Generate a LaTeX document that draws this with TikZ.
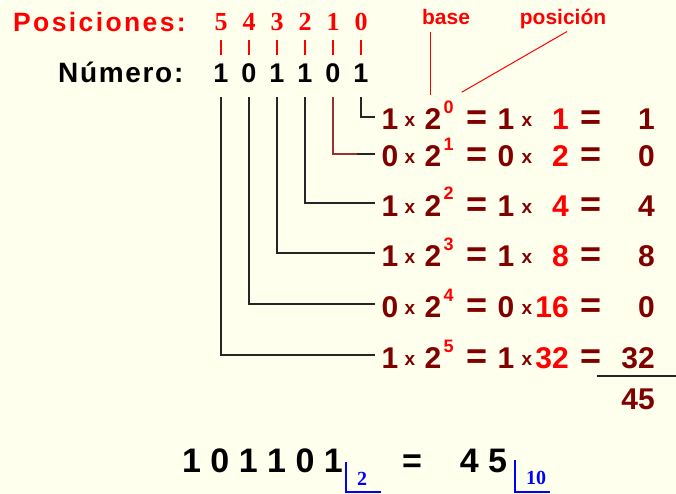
\documentclass[tikz,border=0pt]{standalone}
\usepackage{fontspec}
\usetikzlibrary{calc}
\newfontfamily\lsans{Liberation Sans}
\newfontfamily\lsanswide{Liberation Sans}[LetterSpace=9]
\newfontfamily\lsansmid{Liberation Sans}[LetterSpace=6]
\newfontfamily\lserif{Liberation Serif}
\definecolor{bg}{HTML}{FFFFEE}
\definecolor{dred}{HTML}{800000}
\definecolor{lred}{HTML}{FF0000}
\definecolor{bblue}{HTML}{0000FF}
\definecolor{brownred}{HTML}{993333}
\newcommand\fsz[1]{\fontsize{#1pt}{#1pt}\selectfont}
\begin{document}
\begin{tikzpicture}[x=1pt,y=-1pt,
  big/.style={font=\lsans\bfseries\fsz{30}, text=dred, inner sep=0pt, anchor=base, text height=21.5pt, text depth=0pt},
  valst/.style={big, text=lred, anchor=base east},
  resst/.style={big, anchor=base east},
  smx/.style={font=\lsans\bfseries\fsz{19}, text=dred, inner sep=0pt, anchor=base},
  expo/.style={font=\lsans\bfseries\fsz{18}, text=lred, inner sep=0pt, anchor=base},
  eqs/.style={font=\lsans\bfseries\fsz{36}, text=dred, inner sep=0pt, anchor=base},
  posd/.style={font=\lserif\bfseries\fsz{26}, text=lred, inner sep=0pt, anchor=base, text height=18pt, text depth=0pt},
  numd/.style={font=\lsans\bfseries\fsz{27}, text=black, inner sep=0pt, anchor=base, text height=19.5pt, text depth=0pt},
  annt/.style={font=\lsans\bfseries\fsz{21}, text=lred, inner sep=0pt, anchor=base},
  botst/.style={font=\lsans\bfseries\fsz{34}, text=black, inner sep=0pt, anchor=base},
  subst/.style={font=\lserif\bfseries\fsz{20}, text=bblue, inner sep=0pt, anchor=base},
  conn/.style={draw=black!85, line width=1.7pt},
  tick/.style={draw=lred, line width=1.3pt},
  ann/.style={draw=lred, line width=1pt},
  brk/.style={draw=bblue, line width=1.5pt}]
\useasboundingbox (0,0) rectangle (676,494);
\fill[bg] (0,0) rectangle (676,494);

% header
\node[font=\lsanswide\bfseries\fsz{26.5}, text=lred, inner sep=0pt, anchor=base west] (pos) at (13,32) {Posiciones:};
\node[font=\lsansmid\bfseries\fsz{28}, text=black, inner sep=0pt, anchor=base west] (num) at (58,83) {Número:};
\foreach \k/\x/\b in {5/221/1,4/249/0,3/277/1,2/305/1,1/333/0,0/361/1} {
  \node[posd] (p\k) at (\x,31) {\k};
  \node[numd] (n\k) at (\x,83) {\b};
  \draw[tick, shorten <=9pt, shorten >=8pt] (p\k.south) -- (n\k.north);
}

% rows
\foreach \i/\B/\c/\v/\r in {0/130/1/1/1, 1/167/0/2/0, 2/216/1/4/4, 3/266/1/8/8, 4/317/0/16/0, 5/368/1/32/32} {
  \node[big] (c\i) at (390,\B) {\c};
  \node[smx] (xa\i) at (410,\B-3) {x};
  \node[big] (t\i) at (433,\B) {2};
  \node[expo] (e\i) at (448.5,\B-16) {\i};
  \node[eqs] (q\i) at (477,\B) {=};
  \node[big] (d\i) at (506,\B) {\c};
  \node[smx] (xb\i) at (527,\B-3) {x};
  \node[valst] (v\i) at (569,\B) {\v};
  \node[eqs] (r\i) at (591,\B) {=};
  \node[resst] (s\i) at (655,\B) {\r};
  \draw[conn, shorten <=14pt] (n\i.south) |- ($(c\i.west)+(-6,-2.25)$);
}
\coordinate (k1) at ($(c1.west)+(-24,-2.25)$);
\draw[conn, draw=brownred, shorten <=14pt] (n1.south) |- (k1);

% total
\draw[conn] (597,376) -- (676,376);
\node[resst] (tot) at (655,409) {45};

% annotations
\node[annt] (basel) at (446,25) {base};
\node[annt] (posi) at (563,25) {posición};
\draw[ann, shorten <=7pt, shorten >=13.5pt] ($(basel.south)+(-16,0)$) -- ($(t0.north)+(-3,0)$);
\draw[ann] ($(posi.south)+(4,2)$) -- ($(e0.north east)+(8,-9)$);

% bottom line
\node[botst] (bin) at (262.5,472) {1 0 1 1 0 1};
\node[botst] (eqb) at (412,472) {=};
\node[botst] (dec) at (483.5,472) {4 5};
\node[subst] (b2) at (362,485) {2};
\node[subst] (b10) at (536,484) {10};
\draw[brk] (346,462) |- (381,492);
\draw[brk] (515,460) |- (550,492);
\end{tikzpicture}
\end{document}
